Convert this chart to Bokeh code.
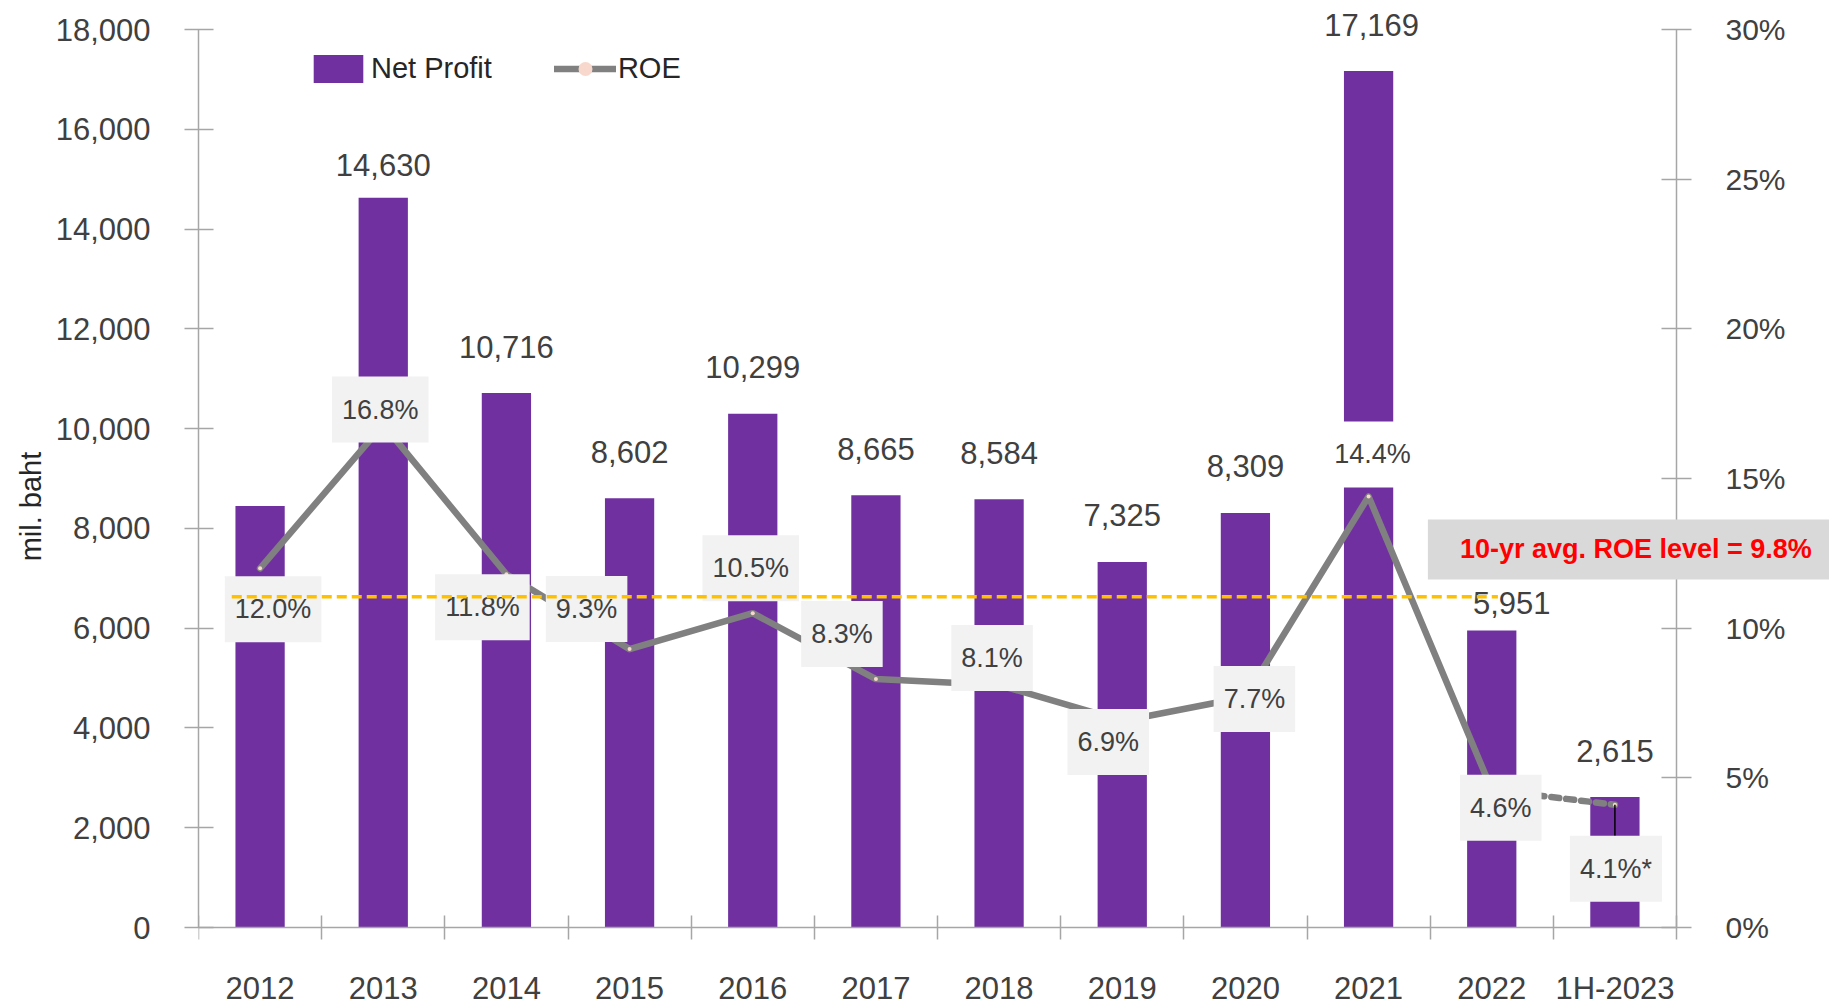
from bokeh.plotting import figure
from bokeh.models import (Range1d, LinearAxis, FixedTicker, CustomJSTickFormatter,
                          NumeralTickFormatter, PrintfTickFormatter, Label, Legend, LegendItem)
from bokeh.embed import file_html
from bokeh.resources import INLINE

# ---------------- data ----------------
categories = ["2012", "2013", "2014", "2015", "2016", "2017", "2018", "2019", "2020", "2021", "2022", "1H-2023"]
net_profit = [8450, 14630, 10716, 8602, 10299, 8665, 8584, 7325, 8309, 17169, 5951, 2615]
profit_labeled = [False, True, True, True, True, True, True, True, True, True, True, True]
roe = [12.0, 16.8, 11.8, 9.3, 10.5, 8.3, 8.1, 6.9, 7.7, 14.4, 4.6, 4.1]
roe_note = ["", "", "", "", "", "", "", "", "", "", "", "*"]
y_ticks = [0, 2000, 4000, 6000, 8000, 10000, 12000, 14000, 16000, 18000]
roe_ticks = [0, 5, 10, 15, 20, 25, 30]
avg_roe_text = "10-yr avg. ROE level = 9.8%"

# ---------------- layout / positions (pixels) ----------------
value_label_offsets = [(0, 46), (0, 33), (0, 46), (0, 46), (0, 47), (0, 46), (0, 46),
                       (0, 47), (0, 47), (3, 46), (20, 28), (0, 46)]
roe_label_offsets = [(13, -41), (-3, 15), (-24, -33), (-43, 40), (-2, 45), (-34, 45),
                     (-7, 27), (-14, -21), (9, -2), (4, 42), (9, -18), (1, -64)]
roe_box_fill = ["#f2f2f2"] * 9 + ["#ffffff"] + ["#f2f2f2"] * 2
avg_line_level = 11.05          # where the dashed guide is drawn (right-axis units)
avg_line_x = (0.27, 10.55)
avg_box_pos = (11.67, 12.63)

PURPLE = "#7030A0"
GREY = "#808080"
TXT = "#404040"
AXC = "#a6a6a6"
FONT = "Liberation Sans"

W, H = 1829, 1007
LEFT, TOP = 198, 5
BASE_Y, TOP_TICK_Y = 927, 29           # pixel rows of 0 and 18,000
PX_PER_UNIT = (BASE_Y - TOP_TICK_Y) / 18000.0
Y_MAX = 18000 + (TOP_TICK_Y - TOP) / PX_PER_UNIT
Y_MIN = -(H - BASE_Y) / PX_PER_UNIT
N = len(categories)
X_END = N * (W - LEFT) / 1478.0        # categories span 1478 px, frame runs to right edge

x = [i + 0.5 for i in range(N)]

p = figure(width=W, height=H, output_backend="svg", toolbar_location=None,
           x_range=Range1d(0, X_END), y_range=Range1d(Y_MIN, Y_MAX),
           min_border_left=LEFT, min_border_right=0, min_border_top=TOP,
           min_border_bottom=0)
p.outline_line_color = None
p.xgrid.visible = False
p.ygrid.visible = False
p.background_fill_color = "white"
p.border_fill_color = "white"

p.extra_y_ranges = {"roe": Range1d(Y_MIN / 600.0, Y_MAX / 600.0)}

# left axis
ya = p.yaxis[0]
ya.ticker = FixedTicker(ticks=y_ticks)
ya.formatter = NumeralTickFormatter(format="0,0")
ya.bounds = (0, 18000)
ya.axis_label = "mil. baht"
ya.axis_label_text_font = FONT
ya.axis_label_text_font_size = "29px"
ya.axis_label_text_font_style = "normal"
ya.axis_label_text_color = "#262626"
ya.axis_label_standoff = 6
ya.major_label_text_font = FONT
ya.major_label_text_font_size = "31px"
ya.major_label_text_color = TXT
ya.major_tick_in = 15
ya.major_tick_out = 14
ya.major_label_standoff = 34
ya.minor_tick_line_color = None
ya.axis_line_color = AXC
ya.major_tick_line_color = AXC
ya.axis_line_width = 1.5
ya.major_tick_line_width = 1.5

# right axis, pinned at the end of the last category
ra = LinearAxis(y_range_name="roe", ticker=FixedTicker(ticks=roe_ticks),
                formatter=PrintfTickFormatter(format="%d%%"), bounds=(0, 30),
                fixed_location=N)
ra.major_label_text_font = FONT
ra.major_label_text_font_size = "30px"
ra.major_label_text_color = TXT
ra.major_tick_in = 15
ra.major_tick_out = 15
ra.major_label_standoff = 34
ra.minor_tick_line_color = None
ra.axis_line_color = AXC
ra.major_tick_line_color = AXC
ra.axis_line_width = 1.5
ra.major_tick_line_width = 1.5
p.add_layout(ra, "right")

# x axis, pinned at zero
xa = p.xaxis[0]
xa.fixed_location = 0
xa.ticker = FixedTicker(ticks=x, minor_ticks=list(range(N + 1)))
xa.formatter = CustomJSTickFormatter(args=dict(labels=categories),
                                     code="return labels[Math.floor(tick)];")
xa.bounds = (0, N)
xa.major_tick_line_color = None
xa.major_tick_out = 12
xa.major_tick_in = 0
xa.minor_tick_line_color = AXC
xa.minor_tick_line_width = 1.5
xa.minor_tick_in = 12
xa.minor_tick_out = 12
xa.axis_line_color = AXC
xa.axis_line_width = 1.5
xa.major_label_text_font = FONT
xa.major_label_text_font_size = "31px"
xa.major_label_text_color = TXT
xa.major_label_standoff = 31

# bars
bars = p.vbar(x=x, top=net_profit, width=0.4, fill_color=PURPLE, line_color=None)

# ROE line
roe_line = p.line(x[:-1], roe[:-1], y_range_name="roe", line_color=GREY, line_width=6.5,
                  line_cap="round", line_join="round")
p.line(x[-2:], roe[-2:], y_range_name="roe", line_color=GREY, line_width=6.5,
       line_dash="8 7", line_cap="round")
dots = p.scatter(x, roe, y_range_name="roe", size=4, fill_color="#f8d8cc", line_color=None)
# leader line from last point to its label
p.segment(x0=[x[-1]], y0=[roe[-1]], x1=[x[-1]], y1=[roe[-1] - 1.2], y_range_name="roe",
          line_color="black", line_width=1.5)

# average guide line (drawn over label boxes)
avg = p.line(list(avg_line_x), [avg_line_level, avg_line_level], y_range_name="roe",
             line_color="#FFC000", line_width=3.5, line_dash="10 5")
avg.level = "overlay"

# value labels above bars
for xi, v, show, (dx, dy) in zip(x, net_profit, profit_labeled, value_label_offsets):
    if not show:
        continue
    p.add_layout(Label(x=xi, y=v, text=f"{v:,}", x_offset=dx, y_offset=dy,
                       text_align="center", text_baseline="middle",
                       text_font=FONT, text_font_size="31px", text_color=TXT))

# ROE labels with boxes
for xi, r, note, (dx, dy), fill in zip(x, roe, roe_note, roe_label_offsets, roe_box_fill):
    p.add_layout(Label(x=xi, y=r, y_range_name="roe", text=f"{r:.1f}%{note}",
                       x_offset=dx, y_offset=dy, text_align="center", text_baseline="middle",
                       text_font=FONT, text_font_size="27px", text_color=TXT,
                       background_fill_color=fill, padding=(10, 18)))

# average annotation box
p.add_layout(Label(x=avg_box_pos[0], y=avg_box_pos[1], y_range_name="roe", text=avg_roe_text,
                   text_align="center", text_baseline="middle", text_font=FONT,
                   text_font_size="27px", text_font_style="bold", text_color="#FF0000",
                   background_fill_color="#d9d9d9", padding=(32, 15)))

legend = Legend(items=[LegendItem(label="Net Profit", renderers=[bars]),
                       LegendItem(label="ROE", renderers=[roe_line, dots])],
                orientation="horizontal", location=(109, 921),
                glyph_width=62, glyph_height=35, label_height=35, label_standoff=2,
                spacing=62, padding=0, margin=0, border_line_color=None,
                background_fill_alpha=0, label_text_font=FONT,
                label_text_font_size="29px", label_text_color="#262626")
p.add_layout(legend)

open("out.html", "w").write(file_html(p, INLINE))
